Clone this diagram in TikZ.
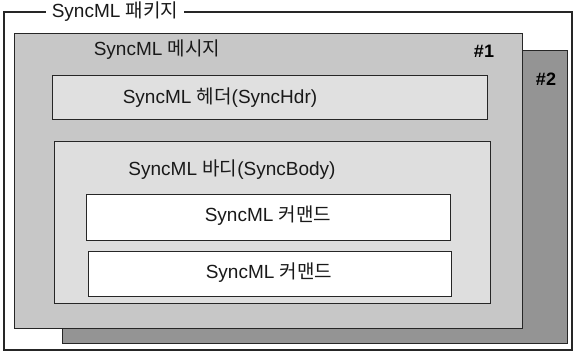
\documentclass[tikz,border=0pt]{standalone}
\usepackage{fontspec}
\setmainfont{Liberation Sans}
\newfontfamily\kr{Noto Sans CJK KR}
\begin{document}
\begin{tikzpicture}[x=1pt,y=-1pt,
  frame/.style={draw=black!85,line width=1.3pt},
  boxlbl/.style={font=\fontsize{19}{22}\selectfont,inner sep=0pt,text=black!90},
  numlbl/.style={font=\fontsize{18}{20}\selectfont\bfseries,inner sep=0pt}]
\useasboundingbox (0,0) rectangle (576,354);
% outer package frame
\node[boxlbl,fill=white,inner xsep=6pt] (pkg) at (115,12) {SyncML {\kr 패키지}};
\coordinate (pkgtl) at (4,12);
\coordinate (pkgbr) at (572,350);
\draw[frame] (pkg.west) -- (pkgtl) |- (pkgbr) |- (pkg.east);
% message #2 (behind)
\node[frame,fill=black!42,minimum width=505pt,minimum height=293pt,anchor=north west,inner sep=0pt] (m2) at (62,50) {};
\node[numlbl] (n2) at (546,79) {\#2};
% message #1
\node[frame,fill=black!22,minimum width=508pt,minimum height=295pt,anchor=north west,inner sep=0pt] (m1) at (14,33) {};
\node[numlbl] (n1) at (484,51) {\#1};
\node[boxlbl] (msg) at (157,50) {SyncML {\kr 메시지}};
% header
\node[frame,fill=black!12,minimum width=435pt,minimum height=44pt,anchor=north west,inner sep=0pt] (hdr) at (52,75) {};
\node[boxlbl] (hdrl) at (220,98) {SyncML {\kr 헤더}(SyncHdr)};
% body
\node[frame,fill=black!13,minimum width=436pt,minimum height=162pt,anchor=north west,inner sep=0pt] (body) at (54,141) {};
\node[boxlbl] (bodyl) at (232,170) {SyncML {\kr 바디}(SyncBody)};
% commands
\node[frame,fill=white,minimum width=364pt,minimum height=46pt,anchor=north west,inner sep=0pt] (c1) at (86,194) {};
\node[boxlbl] (c1l) at (268,216) {SyncML {\kr 커맨드}};
\node[frame,fill=white,minimum width=363pt,minimum height=45pt,anchor=north west,inner sep=0pt] (c2) at (88,251) {};
\node[boxlbl] (c2l) at (269,273) {SyncML {\kr 커맨드}};
\end{tikzpicture}
\end{document}
